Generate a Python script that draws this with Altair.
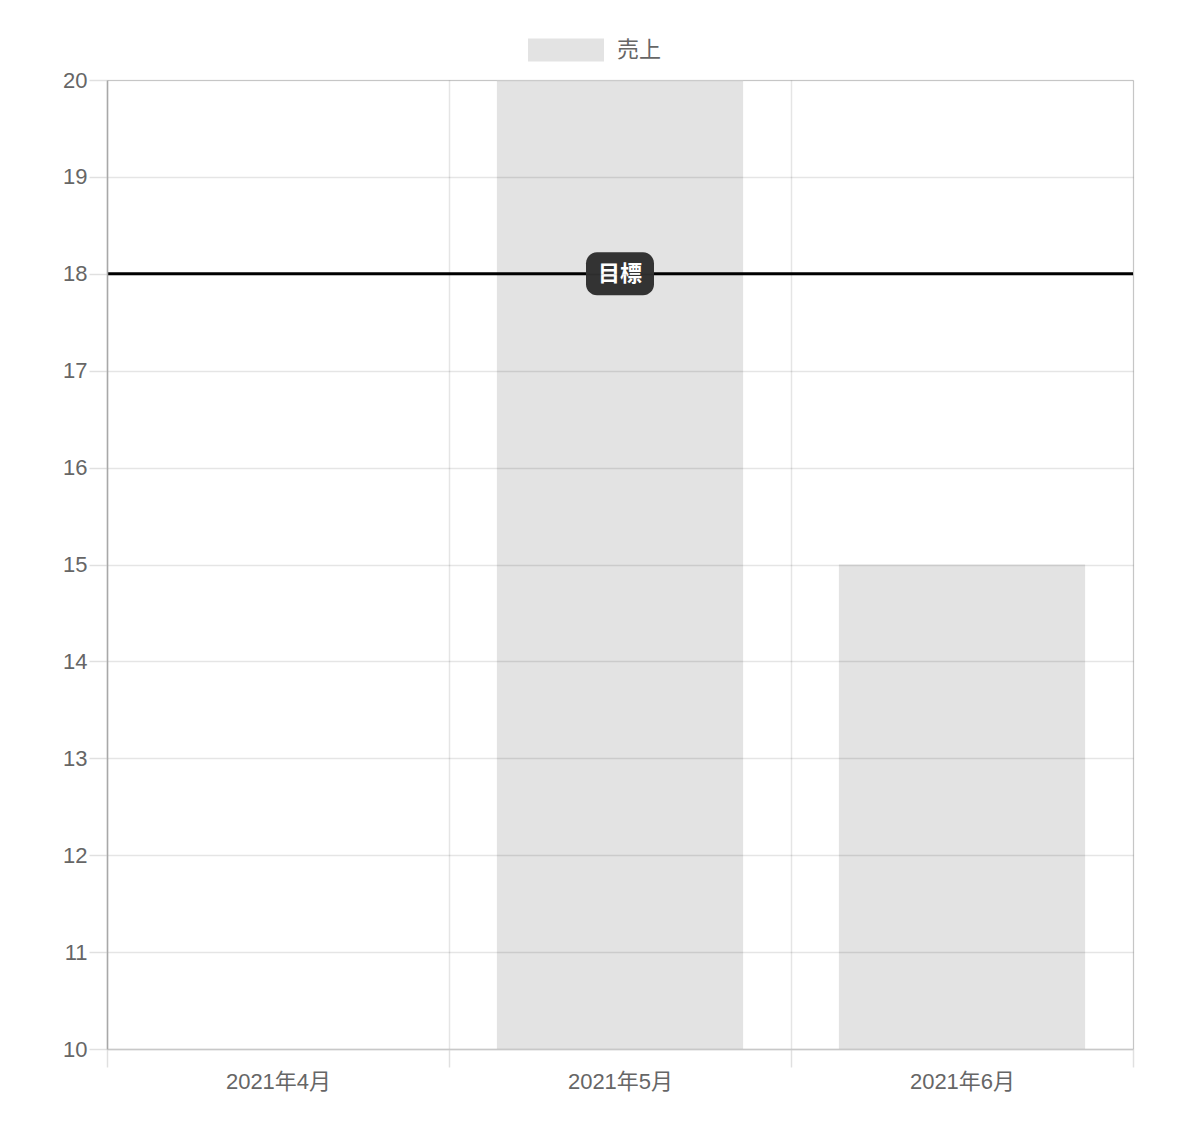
import altair as alt
import pandas as pd

months = ["2021年4月", "2021年5月", "2021年6月"]
sales = [10, 20, 15]
series_name = "売上"
target_value = 18
target_label = "目標"
y_min, y_max = 10, 20

W, H = 1026, 969
FONT = "Liberation Sans, Noto Sans CJK JP, sans-serif"

df = pd.DataFrame({"month": months, "sales": sales, "series": [series_name] * 3})

y_scale = alt.Scale(domain=[y_min, y_max], zero=False, nice=False)
y_axis = alt.Axis(values=list(range(y_min, y_max + 1)), labelOverlap=False,
                  grid=True, gridColor="black", gridOpacity=0.1, gridWidth=1.5,
                  domainColor="#a8a8a8", domainWidth=1.5,
                  tickColor="#e0e0e0", tickWidth=1.5, tickSize=18,
                  labelPadding=2, labelFontSize=22, labelColor="#666",
                  labelFont=FONT, zindex=1)

x_enc = alt.X("month:N", sort=months, title=None,
              scale=alt.Scale(paddingInner=0, paddingOuter=0),
              axis=alt.Axis(labelAngle=0, tickBand="extent", grid=True,
                            gridColor="black", gridOpacity=0.1, gridWidth=1.5,
                            domainColor="#c8c8c8", domainWidth=1.5,
                            tickColor="#e0e0e0", tickWidth=1.5, tickSize=18,
                            labelPadding=4, labelFontSize=22, labelColor="#666",
                            labelFont=FONT, zindex=1))

bars = alt.Chart(df).mark_bar(width=alt.RelativeBandSize(0.72), clip=True).encode(
    x=x_enc,
    y=alt.Y("sales:Q", title=None, scale=y_scale, axis=y_axis),
    y2=alt.datum(y_min),
    color=alt.Color("series:N", title=None,
                    scale=alt.Scale(range=["#e3e3e3"]),
                    legend=alt.Legend(orient="none", legendX=421, legendY=-68,
                                      symbolType="M-1,-0.3L1,-0.3L1,0.3L-1,0.3Z",
                                      symbolSize=5776, symbolStrokeWidth=0,
                                      symbolFillColor="#e3e3e3",
                                      labelFontSize=22, labelColor="#666",
                                      labelFont=FONT, labelOffset=13, padding=0)),
)

tdf = pd.DataFrame({"y": [target_value], "label": [target_label]})

line = alt.Chart(tdf).mark_rule(color="black", strokeWidth=3).encode(
    y=alt.Y("y:Q", title=None, scale=y_scale, axis=y_axis),
    x=alt.value(0), x2=alt.value(W),
)

box = alt.Chart(tdf).mark_rect(color="#333333", cornerRadius=11,
                               yOffset=-21.5, y2Offset=21.5).encode(
    y=alt.Y("y:Q", title=None, scale=y_scale, axis=y_axis), y2=alt.Y2("y"),
    x=alt.value(W / 2 - 34), x2=alt.value(W / 2 + 34),
)

text = alt.Chart(tdf).mark_text(color="white", fontSize=22, fontWeight="bold",
                                font="Noto Sans CJK JP", align="center",
                                baseline="middle").encode(
    y=alt.Y("y:Q", title=None, scale=y_scale, axis=y_axis),
    x=alt.value(W / 2), text="label:N",
)

chart = alt.layer(bars, line, box, text).properties(
    width=W, height=H,
    padding={"left": 99, "top": 72, "right": 50, "bottom": 60},
    autosize=alt.AutoSizeParams(type="none"),
).configure_view(stroke=None).configure(background="white")

chart.save("out.html", embed_options={"renderer": "svg", "actions": False})
